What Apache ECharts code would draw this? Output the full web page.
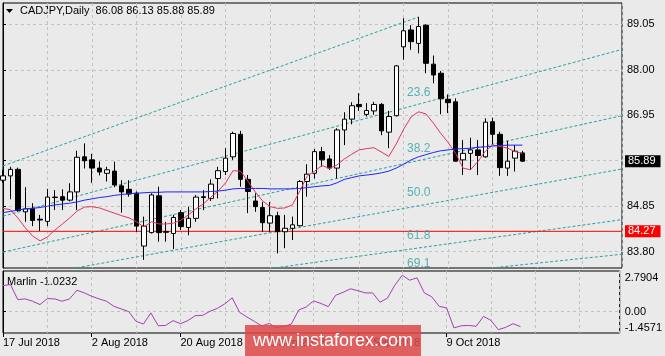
<!DOCTYPE html>
<html><head><meta charset="utf-8">
<script src="https://cdn.jsdelivr.net/npm/echarts@6/dist/echarts.min.js"></script>
<style>html,body{margin:0;padding:0;background:#eaeaea}#c{width:665px;height:356px}</style>
</head><body><div id="c"></div>
<script>
// ---- data ----
const symbolTitle = 'CADJPY,Daily';
const headerOHLC = [86.08, 86.13, 85.88, 85.89];
const opens  = [85.45,85.55,85.70,84.72,84.80,84.55,84.50,85.05,85.07,84.99,
                85.18,85.99,85.92,85.73,85.61,85.66,85.32,85.24,85.15,83.93,
                84.24,85.09,84.26,84.22,84.70,84.36,84.57,85.05,85.03,85.49,
                85.65,85.99,86.51,85.47,84.97,84.82,84.46,84.63,84.26,84.34,
                84.40,85.42,85.61,86.11,85.94,85.73,86.61,86.86,87.20,86.97,
                87.05,87.20,86.56,86.94,88.53,88.92,88.61,89.03,88.13,87.92,
                87.32,87.26,85.92,86.07,86.15,85.99,86.80,86.51,85.73,85.96,86.08];
const highs  = [85.69,85.76,85.74,85.29,84.92,84.65,85.25,85.22,85.24,85.38,
                86.13,86.30,86.06,85.88,85.76,85.88,85.45,85.45,85.19,84.61,
                85.15,85.30,84.49,84.65,84.76,84.84,85.11,85.22,85.47,85.76,
                86.19,86.57,86.59,85.57,85.15,84.95,84.95,84.72,84.65,84.61,
                85.45,85.82,86.17,86.22,86.03,86.65,87.02,87.25,87.46,87.23,
                87.26,87.23,87.05,88.11,89.19,89.03,89.22,89.05,88.33,87.97,
                87.43,87.34,86.38,86.43,86.38,86.88,86.89,86.57,86.36,86.26,86.13];
const lows   = [85.39,85.01,84.72,84.49,84.39,84.28,84.39,84.76,84.76,84.96,
                84.76,85.72,85.39,85.56,85.42,85.29,84.70,85.07,84.26,83.61,
                84.22,84.03,84.03,83.86,84.30,84.18,84.49,84.76,84.97,85.03,
                85.57,85.92,85.30,84.69,84.72,84.26,84.26,83.76,83.88,84.07,
                84.38,85.07,85.49,85.76,85.69,85.49,86.26,86.74,87.05,86.92,
                86.96,86.49,86.19,86.92,88.23,88.46,88.38,87.92,87.69,86.97,
                87.00,85.88,85.57,85.69,85.57,85.97,86.28,85.55,85.55,85.65,85.88];
const closes = [85.55,85.70,84.75,84.79,84.52,84.53,85.06,85.06,84.99,85.18,
                85.98,85.90,85.73,85.64,85.69,85.34,85.18,85.13,84.39,84.39,
                85.11,84.24,84.25,84.59,84.38,84.57,85.06,85.07,85.36,85.67,
                85.96,86.53,85.47,85.19,84.84,84.47,84.63,84.26,84.34,84.42,
                85.42,85.59,86.11,85.92,85.73,86.61,86.86,87.17,87.15,87.06,
                87.20,86.59,86.92,88.09,88.90,88.65,89.00,88.15,87.88,87.33,
                87.24,85.89,86.07,86.15,86.02,86.79,86.51,85.74,85.89,86.12,85.89];
const redMA  = [84.80,84.77,84.58,84.35,84.16,84.05,84.14,84.30,84.44,84.58,
                84.74,84.83,84.84,84.81,84.75,84.69,84.63,84.58,84.49,84.37,
                84.49,84.44,84.44,84.46,84.53,84.65,84.79,84.90,85.06,85.20,
                85.39,85.67,85.66,85.43,85.18,84.97,84.84,84.80,84.81,84.88,
                85.20,85.55,85.66,85.79,85.72,85.80,85.94,86.05,86.15,86.18,
                86.20,86.10,86.00,86.29,86.63,86.91,87.03,86.98,86.77,86.53,
                86.32,86.07,85.73,85.69,85.88,86.12,86.26,86.23,86.19,86.11,86.07];
const blueMA = [84.70,84.73,84.76,84.79,84.80,84.82,84.85,84.88,84.90,84.92,
                84.95,84.99,85.02,85.05,85.07,85.10,85.12,85.14,85.15,85.16,
                85.17,85.17,85.18,85.18,85.18,85.18,85.18,85.18,85.19,85.20,
                85.22,85.25,85.26,85.26,85.26,85.26,85.25,85.25,85.25,85.25,
                85.26,85.28,85.30,85.32,85.33,85.39,85.47,85.51,85.55,85.57,
                85.59,85.62,85.66,85.73,85.82,85.92,85.99,86.04,86.09,86.13,
                86.15,86.17,86.18,86.19,86.21,86.22,86.24,86.25,86.26,86.26,86.26];
const marlin = [1.79,1.86,0.83,0.88,0.72,0.49,0.90,0.88,0.72,0.88,
                1.47,1.29,1.06,0.88,0.72,0.37,0.19,0.01,-0.66,-0.84,
                -0.08,-0.96,-0.94,-0.61,-0.82,-0.61,-0.27,-0.25,0.03,0.23,
                0.54,0.95,-0.04,-0.36,-0.66,-0.98,-0.80,-1.11,-1.00,-0.85,
                0.12,0.32,0.74,0.57,0.35,1.13,1.33,1.57,1.44,1.29,
                1.29,0.65,0.93,1.81,2.50,2.16,2.32,1.29,1.02,0.37,
                0.26,-1.11,-0.96,-0.94,-1.00,-0.32,-0.59,-1.23,-1.07,-0.82,-1.0232];
const marlinName = 'Marlin';
const dateIdx = [0, 12, 24, 36, 48, 60];
const dateLabels = ['17 Jul 2018','2 Aug 2018','20 Aug 2018','5 Sep 2018','21 Sep 2018','9 Oct 2018'];
const priceTicks = [83.80, 84.85, 85.90, 86.95, 88.00, 89.05];
const priceLabels = [83.80, 84.85, 86.95, 88.00, 89.05];
const marlinRange = [-1.4571, 2.7904];
const supportLevel = 84.27;
const lastPrice = 85.89;
// fan (trend) lines: [barIndex, price] end points
const fanLines = [
  [[0, 85.78], [56, 89.22]],
  [[0, 84.62], [83.42, 88.47]],
  [[0, 83.79], [83.42, 86.94]],
  [[0, 83.12], [83.42, 85.71]],
  [[0, 82.55], [83.42, 84.54]],
  [[0, 82.24], [83.42, 83.74]]
];
const fibLabels = ['23.6', '38.2', '50.0', '61.8', '69.1'];
const fibPrices = [87.475, 86.177, 85.166, 84.162, 83.527];
const fibBar = 54.45;

// ---- scale / layout ----
const XMAX = 83.42;
const YMIN = 83.423, YMAX = 89.542;
const FONT = '"Liberation Sans", Arial, sans-serif';
const GRIDC = '#c2c2c2';
const TEAL = '#2aa0a0';

const candleData = opens.map((o, i) => [i, o, closes[i], lows[i], highs[i]]);
const idx = arr => arr.map((v, i) => [i, v]);

const fanSeries = fanLines.map(seg => ({
  type: 'line', xAxisIndex: 0, yAxisIndex: 0, data: seg, symbol: 'none', silent: true,
  lineStyle: { color: TEAL, width: 1, type: [3, 2] }, z: 3
}));

const tagLabel = (txt, bg) => ({ show: true, position: 'end', distance: 3, formatter: txt,
  backgroundColor: bg, color: '#ffffff', padding: [1, 5, 0, 3], fontSize: 11, fontFamily: FONT });

const chart = echarts.init(document.getElementById('c'), null, { renderer: 'canvas' });
chart.setOption({
  animation: false,
  backgroundColor: '#eaeaea',
  textStyle: { fontFamily: FONT },
  grid: [
    { left: 3, top: 3, width: 619, height: 265, show: true, borderColor: '#000', borderWidth: 1, backgroundColor: 'transparent' },
    { left: 3, top: 271, width: 619, height: 62, show: true, borderColor: '#000', borderWidth: 1, backgroundColor: 'transparent' }
  ],
  xAxis: [
    { type: 'value', gridIndex: 0, min: 0, max: XMAX, interval: 6, position: 'bottom',
      axisLine: { show: false }, axisTick: { show: false }, axisLabel: { show: false },
      splitLine: { show: true, lineStyle: { color: GRIDC, type: [3, 3] } } },
    { type: 'value', gridIndex: 1, min: 0, max: XMAX, interval: 6, position: 'bottom',
      axisLine: { show: false }, axisTick: { show: false }, axisLabel: { show: false },
      splitLine: { show: true, lineStyle: { color: GRIDC, type: [3, 3] } } },
    { type: 'value', gridIndex: 1, min: 0, max: XMAX, position: 'bottom',
      axisLine: { show: false },
      axisTick: { show: true, customValues: dateIdx, length: 4, lineStyle: { color: '#000' } },
      axisLabel: { show: true, customValues: dateIdx, formatter: v => dateLabels[dateIdx.indexOf(v)] || '',
        align: 'left', margin: 4, color: '#000', fontSize: 11, fontFamily: FONT },
      splitLine: { show: false } }
  ],
  yAxis: [
    { type: 'value', gridIndex: 0, position: 'right', min: YMIN, max: YMAX,
      axisLine: { show: true, lineStyle: { color: '#000' } },
      axisTick: { show: true, customValues: priceTicks, length: 3, lineStyle: { color: '#000' } },
      axisLabel: { show: true, customValues: priceLabels, formatter: v => v.toFixed(2), margin: 5,
        color: '#000', fontSize: 11, fontFamily: FONT },
      splitLine: { show: true, lineStyle: { color: GRIDC, type: [3, 3] } } },
    { type: 'value', gridIndex: 1, position: 'right', min: marlinRange[0], max: marlinRange[1],
      axisLine: { show: true, lineStyle: { color: '#000' } },
      axisTick: { show: true, customValues: [0], length: 3, lineStyle: { color: '#000' } },
      axisLabel: { show: true, customValues: [marlinRange[1], 0, marlinRange[0]], margin: 5,
        color: '#000', fontSize: 11, fontFamily: FONT,
        formatter: v => v === marlinRange[1] ? '{t|' + v.toFixed(4) + '}' : (v === marlinRange[0] ? '{b|' + v.toFixed(4) + '}' : v.toFixed(2)),
        rich: {
          t: { padding: [13, 0, 0, 0], fontSize: 11, fontFamily: FONT, color: '#000' },
          b: { padding: [0, 0, 11, 0], fontSize: 11, fontFamily: FONT, color: '#000' }
        } },
      splitLine: { show: true, lineStyle: { color: GRIDC, type: [3, 3] } } }
  ],
  series: [
    ...fanSeries,
    // horizontal support level (red)
    { type: 'line', xAxisIndex: 0, yAxisIndex: 0, data: [[0, supportLevel], [XMAX, supportLevel]],
      symbol: 'none', silent: true, z: 3, lineStyle: { color: '#ff0000', width: 1, type: 'solid' } },
    { type: 'candlestick', xAxisIndex: 0, yAxisIndex: 0, data: candleData, barWidth: 5, z: 4,
      itemStyle: { color: '#ffffff', color0: '#000000', borderColor: '#000000', borderColor0: '#000000', borderWidth: 1 } },
    { type: 'line', xAxisIndex: 0, yAxisIndex: 0, data: idx(redMA), symbol: 'none', silent: true, z: 5,
      lineStyle: { color: '#e5345c', width: 1 } },
    { type: 'line', xAxisIndex: 0, yAxisIndex: 0, data: idx(blueMA), symbol: 'none', silent: true, z: 5,
      lineStyle: { color: '#2222ff', width: 1 } },
    { type: 'scatter', xAxisIndex: 0, yAxisIndex: 0, symbolSize: 0, silent: true, z: 6,
      data: fibPrices.map((p, i) => ({ name: fibLabels[i], value: [fibBar, p] })),
      label: { show: true, position: 'right', distance: 0, formatter: '{b}', color: '#33a0a0', fontSize: 12, fontFamily: FONT },
      markLine: { symbol: 'none', silent: true, animation: false,
        lineStyle: { color: 'rgba(0,0,0,0)', width: 0 },
        data: [
          { yAxis: supportLevel, label: tagLabel(supportLevel.toFixed(2), '#ff0000') },
          { yAxis: lastPrice, label: tagLabel(lastPrice.toFixed(2), '#000000') }
        ] } },
    { type: 'line', xAxisIndex: 1, yAxisIndex: 1, data: idx(marlin), symbol: 'none', silent: true,
      lineStyle: { color: '#a43fb0', width: 1 } }
  ],
  graphic: [
    { type: 'polygon', shape: { points: [[6, 9], [13, 9], [9.5, 13]] }, style: { fill: '#000' } },
    { type: 'text', x: 20, y: 11, style: { text: symbolTitle + '  ' + headerOHLC.map(v => v.toFixed(2)).join(' '),
        fill: '#000', font: '11px ' + FONT, verticalAlign: 'middle' } },
    { type: 'text', x: 7, y: 282, style: { text: marlinName + ' ' + marlin[marlin.length - 1].toFixed(4),
        fill: '#000', font: '11px ' + FONT, verticalAlign: 'middle' } },
    { type: 'rect', z: 100, shape: { x: 245, y: 325, width: 176, height: 31 }, style: { fill: 'rgba(222,72,72,0.85)' } },
    { type: 'text', z: 101, x: 333, y: 341, style: { text: 'www.instaforex.com', fill: '#ffffff',
        font: '18px ' + FONT, align: 'center', verticalAlign: 'middle' } }
  ]
});
</script>
</body></html>
